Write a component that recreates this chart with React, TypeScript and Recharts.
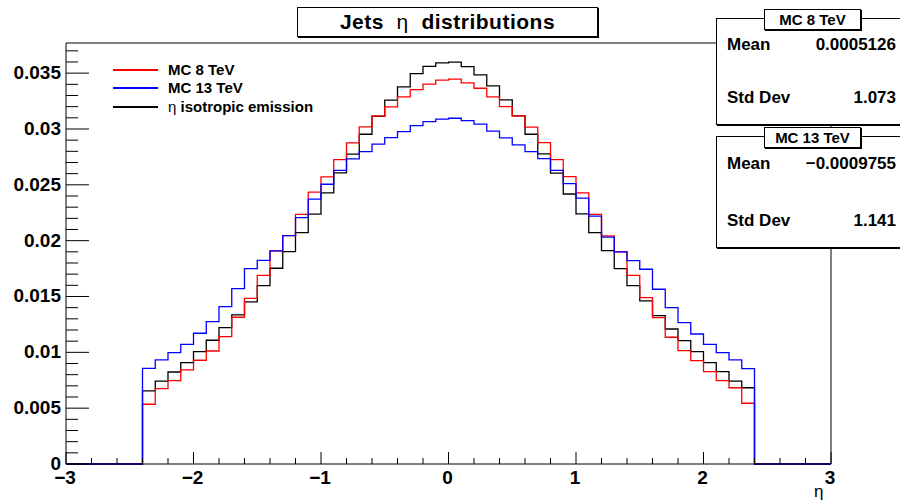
import React from 'react';
import { LineChart, Line, XAxis, YAxis, ReferenceLine } from 'recharts';

// bin contents, 48 bins of width 0.1 from -2.4 to 2.4
const mc8 = [
  0.00535, 0.00675, 0.00746, 0.00842, 0.00929, 0.01012, 0.0114, 0.01314, 0.01484, 0.0169, 0.01908, 0.02045,
  0.02236, 0.02434, 0.02572, 0.02725, 0.02875, 0.03019, 0.03115, 0.03198, 0.03287, 0.03353, 0.03402, 0.03437,
  0.03446, 0.03413, 0.03365, 0.03287, 0.032, 0.03117, 0.03016, 0.02878, 0.02726, 0.02574, 0.02427, 0.02236,
  0.02042, 0.01899, 0.0169, 0.0149, 0.01311, 0.01135, 0.01015, 0.00925, 0.00827, 0.00746, 0.00683, 0.00544,
];
const mc13 = [
  0.00857, 0.00932, 0.00997, 0.01072, 0.01171, 0.01275, 0.01409, 0.01571, 0.0175, 0.01824, 0.01908, 0.02045,
  0.02206, 0.02372, 0.02505, 0.0263, 0.02732, 0.02798, 0.02864, 0.02923, 0.02977, 0.0303, 0.03066, 0.03088,
  0.03096, 0.03075, 0.03043, 0.0298, 0.0292, 0.02857, 0.02798, 0.02735, 0.0263, 0.02511, 0.0238, 0.02219,
  0.02031, 0.01899, 0.01821, 0.01744, 0.01565, 0.014, 0.01266, 0.01164, 0.01072, 0.00997, 0.00932, 0.00854,
];
const iso = [
  0.00654, 0.00743, 0.00824, 0.00908, 0.01006, 0.01108, 0.01221, 0.01335, 0.01451, 0.01597, 0.01753, 0.01902,
  0.02072, 0.02237, 0.02427, 0.02607, 0.02774, 0.02953, 0.03114, 0.03258, 0.03377, 0.03496, 0.0356, 0.03592,
  0.03598, 0.03559, 0.03484, 0.03386, 0.0326, 0.03117, 0.02953, 0.02777, 0.02604, 0.02418, 0.02239, 0.02072,
  0.01911, 0.0175, 0.01597, 0.0146, 0.01328, 0.01209, 0.01104, 0.01006, 0.00908, 0.00827, 0.00743, 0.00683,
];

const xMin = -3;
const xMax = 3;
const binW = 0.1;
const histLow = -2.4;
const yTop = 0.0377;

const xMajor = [-3, -2, -1, 0, 1, 2, 3];
const xLabels = ['\u22123', '\u22122', '\u22121', '0', '1', '2', '3'];
const yMajor = [0, 0.005, 0.01, 0.015, 0.02, 0.025, 0.03, 0.035];
const yLabels = ['0', '0.005', '0.01', '0.015', '0.02', '0.025', '0.03', '0.035'];

const statNames = ['MC 8 TeV', 'MC 13 TeV'];
const statMeans = ['0.0005126', '\u22120.0009755'];
const statStd = ['1.073', '1.141'];

const nBins = Math.round((xMax - xMin) / binW);
const offset = Math.round((histLow - xMin) / binW);
const chartData: { x: number; mc8: number; mc13: number; iso: number }[] = [];
for (let i = 0; i <= nBins; i++) {
  const k = i - offset;
  const get = (a: number[]) => (k >= 0 && k < a.length ? a[k] : 0);
  chartData.push({ x: Math.round((xMin + i * binW) * 10) / 10, mc8: get(mc8), mc13: get(mc13), iso: get(iso) });
}

const xTicks: number[] = [];
for (let i = 0; i <= 30; i++) xTicks.push(Math.round((xMin + i * 0.2) * 10) / 10);
const yTicks: number[] = [];
for (let i = 0; i <= 37; i++) yTicks.push(i / 1000);

const FONT = '"Liberation Sans", Arial, Helvetica, sans-serif';
const PL = 66;
const PB = 464;

const YTick = (props: any) => {
  const { y, payload } = props;
  const idx = yMajor.findIndex((v) => Math.abs(v - payload.value) < 1e-9);
  const major = idx >= 0;
  return (
    <g>
      <line x1={PL} x2={PL + (major ? 23 : 12)} y1={y} y2={y} stroke="#000" strokeWidth={1} />
      {major && (
        <text x={PL - 5} y={y + 6} textAnchor="end" fontFamily={FONT} fontWeight="bold" fontSize={19} fill="#000">
          {yLabels[idx]}
        </text>
      )}
    </g>
  );
};

const XTick = (props: any) => {
  const { x, payload } = props;
  const idx = xMajor.findIndex((v) => Math.abs(v - payload.value) < 1e-9);
  const major = idx >= 0;
  return (
    <g>
      <line x1={x} x2={x} y1={PB} y2={PB - (major ? 12 : 6)} stroke="#000" strokeWidth={1} />
      {major && (
        <text x={x - 1} y={PB + 20} textAnchor="middle" fontFamily={FONT} fontWeight="bold" fontSize={19} fill="#000">
          {xLabels[idx]}
        </text>
      )}
    </g>
  );
};

const legendItems = [
  { color: '#ff0000', label: <span>MC 8 TeV</span> },
  { color: '#0000ff', label: <span>MC 13 TeV</span> },
  {
    color: '#000000',
    label: (
      <span>
        <span style={{ fontWeight: 'normal' }}>η</span> isotropic emission
      </span>
    ),
  },
];

const StatBox = ({ i, top, height }: { i: number; top: number; height: number }) => (
  <>
    <div
      style={{
        position: 'absolute', left: 716, top, width: 200, height, boxSizing: 'border-box',
        border: '1px solid #000', boxShadow: '1px 1px 0 #000', background: '#fff',
      }}
    >
      <div style={{ position: 'absolute', left: 10, top: i === 0 ? 16 : 17, lineHeight: '20px', fontSize: 17 }}>Mean</div>
      <div style={{ position: 'absolute', left: 0, width: 179, textAlign: 'right', top: i === 0 ? 16 : 17, lineHeight: '20px', fontSize: 17 }}>
        {statMeans[i]}
      </div>
      <div style={{ position: 'absolute', left: 10, top: i === 0 ? 69 : 74, lineHeight: '20px', fontSize: 17 }}>Std Dev</div>
      <div style={{ position: 'absolute', left: 0, width: 179, textAlign: 'right', top: i === 0 ? 69 : 74, lineHeight: '20px', fontSize: 17 }}>
        {statStd[i]}
      </div>
    </div>
    <div
      style={{
        position: 'absolute', left: 764, top: top - 9, width: 97, height: 21, boxSizing: 'border-box',
        border: '1px solid #000', boxShadow: '1px 1px 0 #000', background: '#fff',
        fontSize: 15, lineHeight: '19px', textAlign: 'center',
      }}
    >
      {statNames[i]}
    </div>
  </>
);

export default function App() {
  return (
    <div
      style={{
        position: 'absolute', left: 0, top: 0, width: 900, height: 504, background: '#fff',
        overflow: 'hidden', fontFamily: FONT, fontWeight: 'bold', color: '#000',
      }}
    >
      <LineChart width={900} height={504} data={chartData} margin={{ top: 43, right: 69, bottom: 0, left: 0 }}>
        <XAxis
          type="number" dataKey="x" domain={[xMin, xMax]} ticks={xTicks} interval={0}
          height={40} axisLine={{ stroke: '#000' }} tickLine={false} tick={<XTick />}
        />
        <YAxis
          type="number" domain={[0, yTop]} ticks={yTicks} interval={0}
          width={66} axisLine={{ stroke: '#000' }} tickLine={false} tick={<YTick />}
        />
        <ReferenceLine y={yTop} stroke="#000" />
        <ReferenceLine x={xMax} stroke="#000" />
        <Line type="stepAfter" dataKey="iso" stroke="#000000" strokeWidth={1.3} dot={false} isAnimationActive={false} />
        <Line type="stepAfter" dataKey="mc8" stroke="#ff0000" strokeWidth={1.3} dot={false} isAnimationActive={false} />
        <Line type="stepAfter" dataKey="mc13" stroke="#0000ff" strokeWidth={1.3} dot={false} isAnimationActive={false} />
      </LineChart>

      {/* title */}
      <div
        style={{
          position: 'absolute', left: 297, top: 7, width: 301, height: 30, boxSizing: 'border-box',
          border: '1px solid #000', boxShadow: '1px 1px 0 #000', background: '#fff',
          fontSize: 21, letterSpacing: 0.5, lineHeight: '28px', textAlign: 'center', whiteSpace: 'pre',
        }}
      >
        Jets  <span style={{ fontWeight: 'normal' }}>η</span>  distributions
      </div>

      {/* legend */}
      {legendItems.map((it, i) => (
        <div key={i} style={{ position: 'absolute', left: 113, top: [70, 88, 107][i] - 10, height: 20, display: 'flex', alignItems: 'center' }}>
          <div style={{ width: 45, height: 1.3, background: it.color, marginRight: 10 }} />
          <div style={{ fontSize: 15, lineHeight: '20px', whiteSpace: 'nowrap' }}>{it.label}</div>
        </div>
      ))}

      <StatBox i={0} top={18} height={107} />
      <StatBox i={1} top={136} height={112} />

      {/* axis title */}
      <div style={{ position: 'absolute', left: 814, top: 482, fontSize: 17, fontWeight: 'normal' }}>η</div>
    </div>
  );
}
